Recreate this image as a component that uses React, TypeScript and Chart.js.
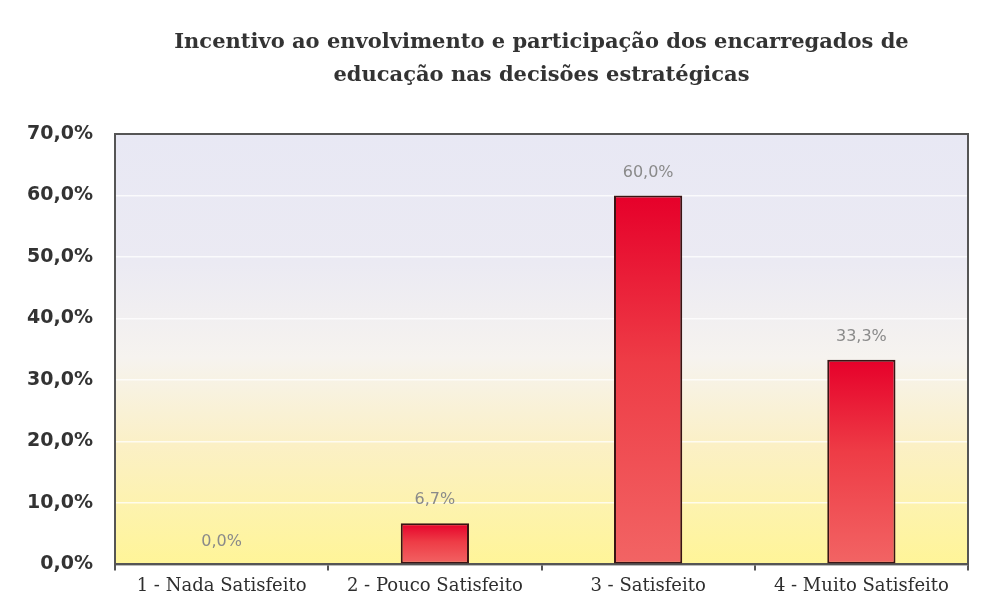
import React, { useEffect, useRef } from "react";
import { Chart, registerables } from "chart.js";

Chart.register(...registerables);

const titleLines = [
  "Incentivo ao envolvimento e participação dos encarregados de",
  "educação nas decisões estratégicas",
];
const categories = [
  "1 - Nada Satisfeito",
  "2 - Pouco Satisfeito",
  "3 - Satisfeito",
  "4 - Muito Satisfeito",
];
const values = [0.0, 6.7, 60.0, 33.3];
const valueLabels = ["0,0%", "6,7%", "60,0%", "33,3%"];
const yMax = 70;
const yStep = 10;

const fmt = (v: number) => v.toFixed(1).replace(".", ",") + "%";

export default function App() {
  const ref = useRef<HTMLCanvasElement | null>(null);

  useEffect(() => {
    if (!ref.current) return;

    const bgPlugin = {
      id: "bgPlugin",
      beforeDraw(chart: any) {
        const { ctx, chartArea: a } = chart;
        ctx.save();
        ctx.fillStyle = "#ffffff";
        ctx.fillRect(0, 0, chart.width, chart.height);
        const g = ctx.createLinearGradient(0, a.top, 0, a.bottom);
        g.addColorStop(0, "#e8e8f4");
        g.addColorStop(0.3, "#ebeaf3");
        g.addColorStop(0.52, "#f6f3ef");
        g.addColorStop(0.72, "#fbf0c6");
        g.addColorStop(1, "#fff598");
        ctx.fillStyle = g;
        ctx.fillRect(a.left, a.top, a.right - a.left, a.bottom - a.top);
        // title
        ctx.fillStyle = "#333333";
        ctx.font = "bold 21px 'DejaVu Serif'";
        ctx.textAlign = "center";
        ctx.textBaseline = "middle";
        const cx = (a.left + a.right) / 2;
        ctx.fillText(titleLines[0], cx, 43);
        ctx.fillText(titleLines[1], cx, 76);
        ctx.restore();
      },
      afterDatasetsDraw(chart: any) {
        const { ctx, chartArea: a } = chart;
        ctx.save();
        ctx.strokeStyle = "#555555";
        ctx.lineWidth = 2;
        ctx.strokeRect(a.left, a.top, a.right - a.left, a.bottom - a.top);
        const meta = chart.getDatasetMeta(0);
        ctx.fillStyle = "#8a8a8a";
        ctx.font = "16px 'DejaVu Sans'";
        ctx.textAlign = "center";
        ctx.textBaseline = "middle";
        meta.data.forEach((el: any, i: number) => {
          ctx.fillText(valueLabels[i], el.x, el.y - 23);
        });
        ctx.restore();
      },
    };

    const chart = new Chart(ref.current, {
      type: "bar",
      data: {
        labels: categories,
        datasets: [
          {
            data: values,
            backgroundColor: (c: any) => {
              const chart = c.chart;
              const area = chart.chartArea;
              if (!area) return "#e8102e";
              const ys = chart.scales.y;
              const v = c.raw as number;
              const top = ys.getPixelForValue(v);
              const bot = ys.getPixelForValue(0);
              if (bot - top < 1) return "#e8102e";
              const g = chart.ctx.createLinearGradient(0, top, 0, bot);
              g.addColorStop(0, "#e6002a");
              g.addColorStop(0.45, "#ee3c46");
              g.addColorStop(1, "#f26464");
              return g;
            },
            borderColor: "#3a1414",
            borderWidth: 2,
            borderSkipped: false,
            barPercentage: 0.64,
            categoryPercentage: 0.5,
          },
        ],
      },
      options: {
        responsive: false,
        animation: false,
        layout: { padding: { left: 0, right: 17, top: 134, bottom: 4 } },
        plugins: {
          legend: { display: false },
          tooltip: { enabled: false },
          title: { display: false },
        },
        scales: {
          x: {
            offset: true,
            grid: {
              offset: true,
              display: true,
              drawOnChartArea: false,
              drawTicks: true,
              tickLength: 6,
              color: "#555555",
              lineWidth: 2,
            },
            border: { display: true, color: "#555555", width: 2 },
            ticks: {
              color: "#2e2e2e",
              font: { family: "'DejaVu Serif'", size: 18 },
              padding: 5,
              maxRotation: 0,
              autoSkip: false,
            },
          },
          y: {
            min: 0,
            max: yMax,
            ticks: {
              stepSize: yStep,
              color: "#333333",
              font: { family: "'DejaVu Sans'", size: 19, weight: "bold" },
              padding: 22,
              callback: (v: any) => fmt(Number(v)),
            },
            grid: {
              color: "rgba(255,255,255,0.75)",
              lineWidth: 1.5,
              drawTicks: false,
            },
            border: { display: true, color: "#555555", width: 2 },
            afterFit: (s: any) => {
              s.width = 115;
            },
          },
        },
      },
      plugins: [bgPlugin],
    });
    return () => chart.destroy();
  }, []);

  return (
    <div style={{ position: "fixed", left: 0, top: 0, width: 985, height: 606, background: "#fff" }}>
      <canvas ref={ref} width={985} height={606} />
    </div>
  );
}
